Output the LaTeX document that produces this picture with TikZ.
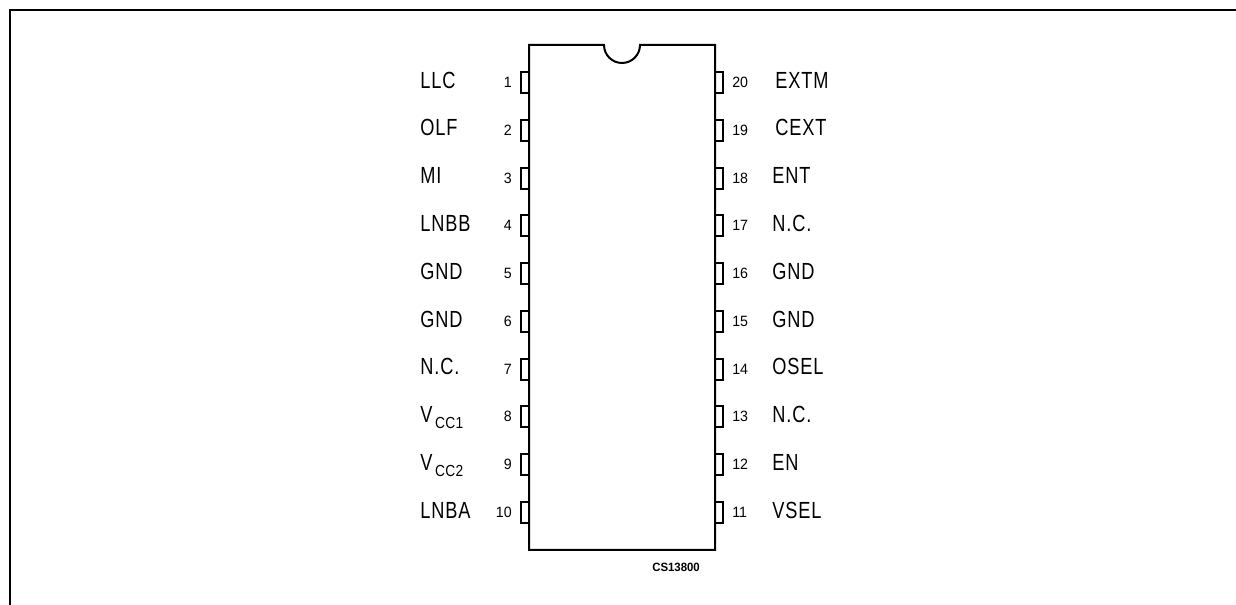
\documentclass[tikz,border=0pt]{standalone}
\usepackage{fontspec}
\setmainfont[FakeStretch=0.78,LetterSpace=4]{Liberation Sans}
\newfontfamily\numfont[FakeStretch=0.95]{Liberation Sans}
\newfontfamily\subfont[FakeStretch=0.86,LetterSpace=2]{Liberation Sans}
\tikzset{
  x=0.75pt,y=-0.75pt,
  frameline/.style={line width=1.5pt},
  bodyline/.style={line width=1.5pt,line join=miter},
  pinbox/.style={line width=1.3pt},
  lab/.style={font=\fontsize{17.5}{18}\selectfont,inner sep=0pt,anchor=base west},
  num/.style={font=\numfont\fontsize{11.2}{12}\selectfont,inner sep=0pt,anchor=base east},
  rnum/.style={font=\numfont\fontsize{11.2}{12}\selectfont,inner sep=0pt,anchor=base west},
}
\newcommand{\subs}[1]{V\raisebox{-4.5pt}{\hspace{2pt}\subfont\fontsize{12}{13}\selectfont #1}}
\begin{document}
\begin{tikzpicture}
\useasboundingbox (0,0) rectangle (1236,605);
\coordinate (fa) at (9.5,605);
\coordinate (fb) at (9.5,10);
\coordinate (fc) at (1236,10);
\draw[frameline] (fa) -- (fb) -- (fc);
% body
\draw[bodyline] (529,45) -- (604,45) arc[start angle=180,end angle=360,x radius=18,y radius=-18] -- (640,45) -- (715,45) -- (715,550) -- (529,550) -- cycle;
% pins
\foreach \yy in {72,120,168,215,263,311,359,406,454,502}{
  \draw[pinbox] (529,\yy) -- (521,\yy) -- (521,\yy+21) -- (529,\yy+21);
  \draw[pinbox] (715,\yy) -- (723,\yy) -- (723,\yy+21) -- (715,\yy+21);
}
% left numbers
\foreach \n/\yy in {1/88,2/136,3/184,4/231,5/279,6/327,7/375,8/422,9/470,10/518}{
  \node[num] (n\n) at (512,\yy) {\n};
}
\foreach \n/\yy in {20/88,19/136,18/184,17/231,16/279,15/327,14/375,13/422,12/470,11/518}{
  \node[rnum] (n\n) at (732,\yy) {\n};
}
% left labels
\node[lab] (l1) at (420,88.5) {LLC};
\node[lab] (l2) at (420,136) {OLF};
\node[lab] (l3) at (420,184) {MI};
\node[lab] (l4) at (420,232) {LNBB};
\node[lab] (l5) at (420,280) {GND};
\node[lab] (l6) at (420,328) {GND};
\node[lab] (l7) at (420,375) {N.C.};
\node[lab] (l8) at (420,423) {\subs{CC1}};
\node[lab] (l9) at (420,471) {\subs{CC2}};
\node[lab] (l10) at (420,519) {LNBA};
% right labels
\node[lab] (r20) at (775,88.5) {EXTM};
\node[lab] (r19) at (775,136) {CEXT};
\node[lab] (r18) at (772,184) {ENT};
\node[lab] (r17) at (772,232) {N.C.};
\node[lab] (r16) at (772,280) {GND};
\node[lab] (r15) at (772,328) {GND};
\node[lab] (r14) at (772,375) {OSEL};
\node[lab] (r13) at (772,423) {N.C.};
\node[lab] (r12) at (772,471) {EN};
\node[lab] (r11) at (772,519) {VSEL};
\node[font=\numfont\fontsize{9}{10}\selectfont\bfseries,inner sep=0pt,anchor=base west] (code) at (652,572) {CS13800};
\end{tikzpicture}
\end{document}
